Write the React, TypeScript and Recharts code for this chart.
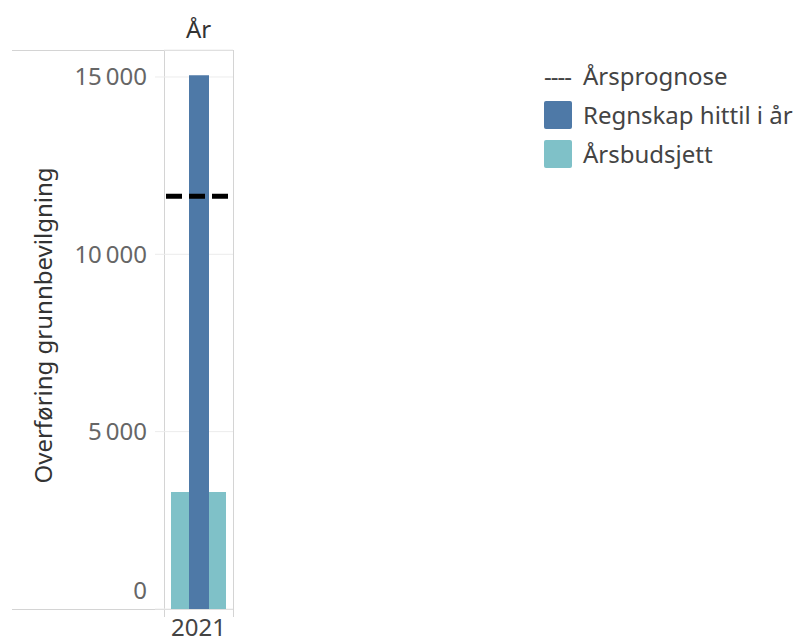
import React from "react";
import { ComposedChart, Bar, XAxis, YAxis, CartesianGrid, ReferenceLine } from "recharts";

const years = ["2021"];
const regnskap = [15050];
const budsjett = [3300];
const prognose = [11640];
const yTicks = [0, 5000, 10000, 15000];

const BLUE = "#4e79a7";
const TEAL = "#7fc1c8";
const FONT = "'Noto Sans', sans-serif";
const FS = 24;

const data = years.map((y, i) => ({
  year: y,
  regnskap: regnskap[i],
  budsjett: budsjett[i],
}));

function fmt(v: number) {
  return String(v).replace(/\B(?=(\d{3})+(?!\d))/g, "\u202f");
}

function YTick(props: any) {
  const { x, y, payload } = props;
  const shift = payload.value === 0 ? -19 : 0;
  return (
    <text x={x} y={y + shift} dy="0.355em" textAnchor="end" fill="#666" fontSize={FS} fontFamily={FONT}>
      {fmt(payload.value)}
    </text>
  );
}

function YTitle(props: any) {
  const { viewBox } = props;
  const cy = viewBox.y + viewBox.height / 2 - 4;
  return (
    <text
      x={42}
      y={cy}
      transform={`rotate(-90 42 ${cy})`}
      textAnchor="middle"
      dominantBaseline="central"
      fill="#333"
      fontSize={FS}
      fontFamily={FONT}
    >
      Overføring grunnbevilgning
    </text>
  );
}

function LegendBox() {
  const row: React.CSSProperties = { display: "flex", alignItems: "center", height: 39 };
  const sw = (c: string): React.CSSProperties => ({
    width: 28,
    height: 28,
    background: c,
    borderRadius: 2,
    marginRight: 11,
  });
  return (
    <div
      style={{
        position: "absolute",
        left: 544,
        top: 56,
        fontFamily: FONT,
        fontSize: FS,
        color: "#444",
      }}
    >
      <div style={row}>
        <span style={{ width: 28, marginRight: 11, letterSpacing: -1 }}>----</span>
        <span>Årsprognose</span>
      </div>
      <div style={row}>
        <span style={sw(BLUE)} />
        <span>Regnskap hittil i år</span>
      </div>
      <div style={row}>
        <span style={sw(TEAL)} />
        <span>Årsbudsjett</span>
      </div>
    </div>
  );
}

export default function App() {
  return (
    <div style={{ position: "absolute", left: 0, top: 0, width: 798, height: 644, background: "#fff" }}>
      <div
        style={{
          position: "absolute",
          left: 164,
          width: 69,
          top: 12,
          textAlign: "center",
          fontFamily: FONT,
          fontSize: FS,
          color: "#333",
        }}
      >
        År
      </div>
      <div
        style={{
          position: "absolute",
          left: 12,
          top: 50,
          width: 221,
          height: 558,
          borderTop: "1px solid #d4d4d4",
          borderBottom: "1px solid #d4d4d4",
        }}
      />
      <div
        style={{
          position: "absolute",
          left: 164,
          top: 50,
          width: 68,
          height: 567,
          borderLeft: "1px solid #d4d4d4",
          borderRight: "1px solid #d4d4d4",
        }}
      />
      <ComposedChart
        width={798}
        height={644}
        data={data}
        margin={{ top: 50, right: 565, left: 0, bottom: 0 }}
        style={{ position: "absolute", left: 0, top: 0 }}
      >
        <CartesianGrid vertical={false} stroke="#ececec" />
        <XAxis
          xAxisId="a"
          dataKey="year"
          height={35}
          axisLine={false}
          tickLine={false}
          tickSize={0}
          tickMargin={10}
          tick={{ fill: "#444", fontSize: FS, fontFamily: FONT }}
        />
        <XAxis xAxisId="b" dataKey="year" hide />
        <YAxis
          width={164}
          domain={[0, 15760]}
          ticks={yTicks}
          axisLine={false}
          tickLine={{ stroke: "#ececec" }}
          tickSize={9}
          tickMargin={8}
          tick={<YTick />}
          label={<YTitle />}
        />
        <Bar xAxisId="a" dataKey="budsjett" fill={TEAL} barSize={55} isAnimationActive={false} />
        <Bar xAxisId="b" dataKey="regnskap" fill={BLUE} barSize={20} isAnimationActive={false} />
        <ReferenceLine
          xAxisId="a"
          y={prognose[0]}
          stroke="#000"
          strokeWidth={5}
          strokeDasharray="16 7"
          strokeDashoffset={21}
        />
      </ComposedChart>
      <LegendBox />
    </div>
  );
}
